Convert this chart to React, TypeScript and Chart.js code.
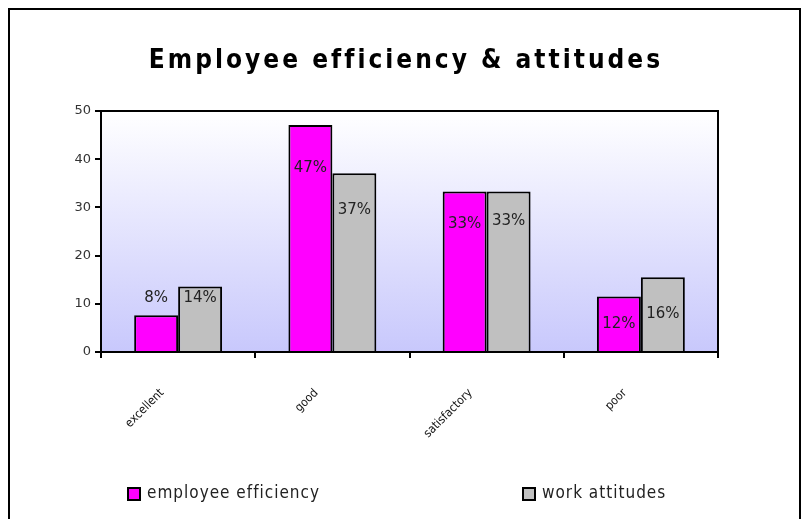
import React, { useEffect, useRef } from "react";
import { Chart, registerables } from "chart.js";

Chart.register(...registerables);

const chartTitle = "Employee efficiency & attitudes";
const categories = ["excellent", "good", "satisfactory", "poor"];
const seriesNames = ["employee efficiency", "work attitudes"];
const employeeEfficiency = [7.6, 47.1, 33.3, 11.5];
const workAttitudes = [13.6, 37.1, 33.3, 15.5];
const efficiencyLabels = ["8%", "47%", "33%", "12%"];
const attitudeLabels = ["14%", "37%", "33%", "16%"];
const yMin = 0;
const yMax = 50;
const yStep = 10;

// label vertical shift (px, positive = below bar top), a style detail
const labelShift = [
  [-17, 43, 33, 28],
  [12, 37, 30, 37],
];

const seriesColors = ["#ff00ff", "#c0c0c0"];

const plotBackground = {
  id: "plotBackground",
  beforeDraw(chart: any) {
    const { ctx, chartArea } = chart;
    if (!chartArea) return;
    const g = ctx.createLinearGradient(0, chartArea.top, 0, chartArea.bottom);
    g.addColorStop(0, "#ffffff");
    g.addColorStop(1, "#c8c8fc");
    ctx.save();
    ctx.fillStyle = g;
    ctx.fillRect(chartArea.left, chartArea.top, chartArea.right - chartArea.left, chartArea.bottom - chartArea.top);
    ctx.restore();
  },
};

const plotFrame = {
  id: "plotFrame",
  afterDraw(chart: any) {
    const { ctx, chartArea } = chart;
    ctx.save();
    ctx.strokeStyle = "#000";
    ctx.lineWidth = 2;
    ctx.strokeRect(chartArea.left, chartArea.top, chartArea.right - chartArea.left, chartArea.bottom - chartArea.top);
    ctx.restore();
  },
};

const titleText = {
  id: "titleText",
  afterDraw(chart: any) {
    const { ctx, chartArea } = chart;
    ctx.save();
    ctx.font = "bold 26px 'DejaVu Sans Condensed'";
    (ctx as any).letterSpacing = "3px";
    ctx.fillStyle = "#000";
    ctx.textAlign = "center";
    ctx.textBaseline = "alphabetic";
    ctx.fillText(chartTitle, chart.width / 2 + 1.5, chartArea.top - 43);
    ctx.restore();
  },
};

const valueLabels = {
  id: "valueLabels",
  afterDatasetsDraw(chart: any) {
    const { ctx } = chart;
    const texts = [efficiencyLabels, attitudeLabels];
    ctx.save();
    ctx.font = "15px 'DejaVu Sans'";
    ctx.fillStyle = "#222";
    ctx.textAlign = "center";
    ctx.textBaseline = "middle";
    chart.data.datasets.forEach((_: any, di: number) => {
      const meta = chart.getDatasetMeta(di);
      meta.data.forEach((el: any, i: number) => {
        ctx.fillText(texts[di][i], el.x, el.y + labelShift[di][i]);
      });
    });
    ctx.restore();
  },
};

const bottomLegend = {
  id: "bottomLegend",
  afterDraw(chart: any) {
    const { ctx, chartArea } = chart;
    const y = chartArea.bottom + 142;
    ctx.save();
    ctx.font = "17px 'DejaVu Sans Condensed'";
    (ctx as any).letterSpacing = "1px";
    ctx.textBaseline = "middle";
    ctx.textAlign = "left";
    chart.data.datasets.forEach((ds: any, i: number) => {
      const x = chartArea.left + 26 + i * 395;
      ctx.fillStyle = ds.backgroundColor;
      ctx.fillRect(x + 1, y - 6, 12, 12);
      ctx.strokeStyle = "#000";
      ctx.lineWidth = 2;
      ctx.strokeRect(x + 1, y - 6, 12, 12);
      ctx.fillStyle = "#222";
      ctx.fillText(ds.label, x + 20, y);
    });
    ctx.restore();
  },
};

export default function App() {
  const ref = useRef<HTMLCanvasElement | null>(null);
  useEffect(() => {
    document.body.style.overflow = "hidden";
    if (!ref.current) return;
    const chart = new Chart(ref.current, {
      type: "bar",
      data: {
        labels: categories,
        datasets: [
          {
            label: seriesNames[0],
            data: employeeEfficiency,
            backgroundColor: seriesColors[0],
            borderColor: "#000",
            borderWidth: 2,
            barPercentage: 1,
            categoryPercentage: 0.57,
          },
          {
            label: seriesNames[1],
            data: workAttitudes,
            backgroundColor: seriesColors[1],
            borderColor: "#000",
            borderWidth: 2,
            barPercentage: 1,
            categoryPercentage: 0.57,
          },
        ],
      },
      options: {
        animation: false,
        responsive: false,
        devicePixelRatio: 1,
        layout: { padding: { top: 101, left: 51, right: 81, bottom: 37 } },
        plugins: {
          legend: { display: false },
          tooltip: { enabled: false },
          title: { display: false },
        },
        scales: {
          x: {
            afterFit(s: any) {
              s.height = 130;
            },
            grid: {
              display: true,
              offset: true,
              drawOnChartArea: false,
              drawTicks: true,
              tickLength: 6,
              color: "#000",
              lineWidth: 2,
            },
            border: { display: true, color: "#000", width: 2 },
            ticks: {
              minRotation: 45,
              maxRotation: 45,
              autoSkip: false,
              labelOffset: -16,
              padding: 28,
              color: "#111",
              font: { family: "'DejaVu Sans Condensed'", size: 12 },
            },
          },
          y: {
            min: yMin,
            max: yMax,
            afterFit(s: any) {
              s.width = 40;
            },
            grid: {
              display: true,
              drawOnChartArea: false,
              drawTicks: true,
              tickLength: 6,
              color: "#000",
              lineWidth: 2,
            },
            border: { display: true, color: "#000", width: 2 },
            ticks: {
              stepSize: yStep,
              padding: 4,
              color: "#333",
              font: { family: "'DejaVu Sans'", size: 13 },
            },
          },
        },
      },
      plugins: [plotBackground, valueLabels, plotFrame, titleText, bottomLegend],
    });
    return () => chart.destroy();
  }, []);

  return (
    <div
      style={{
        border: "2px solid #000",
        width: 789,
        height: 515,
        boxSizing: "content-box",
        background: "#fff",
      }}
    >
      <canvas ref={ref} width={789} height={509} style={{ display: "block" }} />
    </div>
  );
}
